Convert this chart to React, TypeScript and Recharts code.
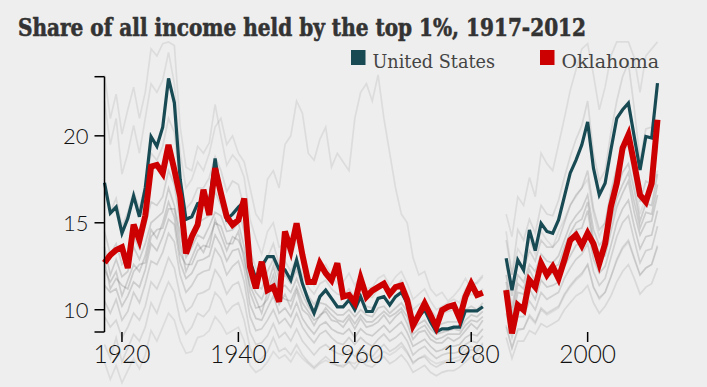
import React from 'react';
import { LineChart, Line, XAxis, YAxis } from 'recharts';

// categories: years 1917..2012 (1983-1985 missing in the source)
const YEARS: number[] = Array.from({ length: 96 }, (_, i) => 1917 + i);

const TITLE = 'Share of all income held by the top 1%, 1917-2012';
const X_TICKS = [1920, 1940, 1960, 1980, 2000];
const Y_TICKS = [8.72, 10, 15, 20, 23.4];
const Y_LABELED = [10, 15, 20];

const US_COLOR = '#184a54';
const OK_COLOR = '#cc0000';

const US = [
  17.3, 15.55, 15.9,
  14.4, 15.25, 16.55, 15.35, 17.0, 19.95, 19.4, 20.5, 23.3, 21.9,
  17.5, 15.2, 15.35, 16.1, 16.2, 16.1, 18.7, 16.5, 15.2, 15.5,
  15.9, 16.2, 12.8, 11.8, 12.5, 13.05, 13.05, 12.3, 12.3, 11.7,
  12.86, 11.5, 10.56, 9.8, 10.75, 11.13, 10.65, 10.17, 10.17, 10.56,
  10.0, 10.75, 9.9, 9.9, 10.65, 10.75, 10.27, 10.75, 11.0, 10.36,
  9.2, 9.6, 10.0, 9.3, 8.73, 8.9, 8.9, 9.0, 9.0, 9.94,
  9.94, 9.94, 10.17, null, null, null, 12.96, 11.13, 12.86, 12.28,
  14.59, 13.4, 14.97, 14.5, 14.4, 15.16, 16.5, 17.85, 18.6, 19.48,
  20.8, 18.14, 16.6, 17.27, 19.2, 21.0, 21.5, 21.88, 19.96, 18.04,
  19.96, 19.87, 23.03,
];

const OKLAHOMA = [
  12.7, 13.15, 13.44,
  13.6, 12.4, 14.9, 14.0, 15.4, 18.23, 18.33, 17.85, 19.48, 18.04,
  16.5, 13.24, 14.2, 14.88, 16.9, 15.45, 18.14, 16.7, 15.35, 14.88,
  15.16, 16.4, 12.48, 11.23, 12.76, 11.13, 11.32, 10.46, 14.5, 13.44,
  14.97, 13.15, 11.6, 11.6, 12.67, 12.1, 11.7, 12.67, 10.75, 10.85,
  10.4, 11.8, 10.75, 11.1, 11.3, 11.5, 10.9, 11.3, 11.4, 10.56,
  9.1, 9.7, 10.36, 9.7, 9.0, 9.98, 10.17, 10.27, 9.5, 10.75,
  11.5, 10.85, 10.98, null, null, null, 11.13, 8.64, 10.27, 9.98,
  11.7, 11.3, 12.67, 12.0, 12.48, 11.8, 12.86, 14.0, 14.3, 13.7,
  14.4, 13.8, 12.67, 13.8, 15.93, 17.27, 19.3, 20.06, 18.4, 16.6,
  16.2, 17.27, 20.92,
];

// other states (faint background lines)
const STATE_1 = [
  23.5, 21.0, 22.4,
  20.1, 21.5, 22.8, 21.0, 22.5, 25.0, 24.6, 25.3, 25.4, 25.2,
  20.5, 18.2, 18.0, 19.4, 19.0, 19.6, 21.8, 20.0, 18.3, 18.9,
  18.5, 17.6, 15.2, 14.1, 13.2, 14.5, 15.0, 13.6, 13.8, 13.0,
  14.0, 13.1, 12.0, 11.4, 12.3, 12.6, 12.0, 11.5, 11.6, 12.1,
  11.4, 12.0, 11.2, 11.3, 11.8, 12.0, 11.4, 11.9, 12.2, 11.5,
  10.6, 10.9, 11.2, 10.5, 10.0, 10.2, 10.4, 10.6, 10.4, 11.2,
  11.6, 11.5, 11.9, null, null, null, 15.5, 14.2, 16.5, 16.0,
  17.6, 16.5, 19.0, 18.4, 18.0, 19.5, 21.0, 22.6, 23.8, 25.0,
  25.3, 23.5, 21.5, 22.8, 24.6, 25.4, 25.4, 25.4, 24.5, 22.5,
  24.6, 25.0, 25.4,
];
const STATE_2 = [
  22.0, 19.5, 21.0,
  17.8, 19.0, 20.6, 19.0, 21.0, 23.0, 22.5, 23.2, 24.8, 23.0,
  19.0, 17.0, 17.5, 18.5, 18.0, 19.0, 20.5, 21.0, 19.5, 20.0,
  19.0, 18.5, 17.0, 15.5, 15.0, 17.5, 18.0, 17.0, 19.5, 20.0,
  22.0, 21.3, 19.0, 18.6, 19.8, 20.5, 18.2, 19.0, 18.5, 18.0,
  21.0, 22.5, 23.0, 22.0, 23.5, 21.0, 19.0, 17.0, 15.5, 15.0,
  13.0, 12.0, 12.2, 11.2, 10.8, 11.0, 10.5, 10.8, 11.2, 11.8,
  11.2, 11.6, 12.0, null, null, null, 14.5, 12.0, 13.5, 13.0,
  14.0, 13.2, 14.5, 14.0, 13.6, 14.5, 15.2, 16.0, 16.5, 17.0,
  17.5, 15.5, 14.2, 15.0, 16.5, 18.0, 19.0, 19.5, 17.5, 15.5,
  16.5, 16.8, 18.0,
];
const STATE_3 = [
  14.5, 13.2, 13.8,
  12.6, 13.0, 14.2, 13.5, 14.8, 16.2, 16.0, 16.5, 18.0, 17.2,
  15.0, 13.8, 14.2, 15.0, 15.2, 15.4, 16.8, 16.0, 15.0, 15.6,
  15.8, 14.5, 12.2, 11.4, 11.2, 12.2, 12.9, 11.8, 12.0, 11.5,
  12.3, 11.4, 10.8, 10.3, 10.8, 11.0, 10.6, 10.2, 10.2, 10.6,
  10.1, 10.6, 10.2, 10.1, 10.6, 10.8, 10.4, 10.7, 11.0, 10.4,
  9.4, 9.7, 9.9, 9.4, 9.0, 9.2, 9.3, 9.3, 9.3, 10.0,
  10.2, 10.0, 10.4, null, null, null, 12.6, 10.8, 12.8, 12.3,
  13.4, 12.8, 14.0, 13.6, 13.6, 14.0, 15.0, 16.0, 16.6, 17.0,
  18.0, 15.8, 14.6, 15.0, 16.8, 18.2, 19.4, 20.0, 18.2, 16.2,
  17.4, 17.2, 19.4,
];
const STATE_4 = [
  12.3, 11.6, 12.2,
  10.8, 11.7, 12.6, 12.2, 13.1, 14.6, 14.1, 15.0, 16.2, 15.3,
  13.2, 12.6, 12.6, 13.4, 13.7, 13.6, 15.2, 14.3, 13.4, 14.2,
  14.0, 13.2, 11.0, 10.1, 10.2, 10.6, 11.6, 10.3, 10.9, 10.1,
  11.1, 10.0, 9.7, 9.1, 9.7, 9.9, 9.4, 9.3, 9.0, 9.5,
  8.9, 9.5, 9.0, 9.1, 9.3, 9.7, 9.2, 9.6, 9.9, 9.2,
  8.3, 8.7, 8.8, 8.3, 8.1, 8.1, 8.4, 8.2, 8.4, 8.8,
  9.2, 8.9, 9.4, null, null, null, 11.2, 9.3, 11.0, 10.9,
  11.9, 11.2, 12.4, 11.9, 12.1, 12.2, 13.3, 13.9, 14.6, 14.7,
  15.7, 13.6, 12.9, 13.1, 14.5, 15.9, 16.7, 17.4, 15.6, 14.3,
  15.0, 15.1, 16.6,
];
const STATE_5 = [
  10.5, 9.8, 10.6,
  9.4, 9.9, 11.0, 10.4, 11.5, 12.8, 12.6, 13.3, 14.4, 13.9,
  12.0, 11.0, 11.4, 12.0, 12.2, 12.3, 13.5, 13.0, 12.0, 12.5,
  12.8, 11.6, 9.6, 8.8, 8.9, 9.4, 10.0, 9.2, 9.5, 9.0,
  9.8, 9.0, 8.5, 8.1, 8.6, 8.8, 8.4, 8.1, 8.0, 8.4,
  8.0, 8.4, 8.1, 7.9, 8.3, 8.6, 8.2, 8.4, 8.7, 8.2,
  7.4, 7.7, 7.9, 7.5, 7.2, 7.4, 7.5, 7.5, 7.6, 8.0,
  8.2, 8.1, 8.5, null, null, null, 9.8, 8.4, 9.6, 9.6,
  10.5, 10.0, 11.0, 10.6, 10.8, 11.0, 11.8, 12.4, 12.9, 13.2,
  13.8, 12.2, 11.4, 11.8, 13.0, 14.2, 15.0, 15.4, 14.0, 12.7,
  13.4, 13.5, 14.8,
];
const STATE_6 = [
  13.6, 12.0, 12.9,
  11.9, 12.2, 13.6, 12.9, 13.8, 15.0, 15.3, 15.6, 17.0, 16.0,
  14.4, 13.0, 13.6, 14.3, 14.1, 14.8, 15.6, 15.4, 14.5, 14.6,
  15.0, 13.6, 11.8, 11.0, 10.6, 11.4, 12.5, 11.2, 11.4, 11.0,
  11.8, 10.9, 10.2, 9.7, 10.4, 10.3, 10.0, 9.7, 9.7, 10.0,
  9.6, 10.0, 9.7, 9.6, 10.1, 10.2, 9.8, 10.1, 10.4, 9.9,
  8.9, 9.2, 9.4, 8.9, 8.6, 8.7, 8.8, 8.9, 8.8, 9.4,
  9.7, 9.6, 9.9, null, null, null, 12.0, 10.1, 12.0, 11.6,
  12.6, 12.2, 13.2, 12.8, 12.7, 13.1, 14.0, 14.9, 15.4, 15.8,
  16.6, 14.6, 13.7, 14.1, 15.6, 16.9, 17.9, 18.4, 16.9, 15.1,
  16.1, 16.0, 17.8,
];
const STATE_7 = [
  11.4, 11.0, 11.2,
  10.2, 10.8, 11.6, 11.3, 12.3, 13.8, 13.4, 14.2, 15.2, 14.9,
  12.7, 11.8, 12.1, 12.8, 12.9, 13.1, 14.3, 13.7, 12.8, 13.4,
  13.5, 12.4, 10.3, 9.5, 9.4, 10.1, 10.8, 9.8, 10.1, 9.6,
  10.4, 9.5, 9.0, 8.6, 9.1, 9.3, 8.9, 8.7, 8.6, 8.9,
  8.4, 8.9, 8.6, 8.5, 8.8, 9.1, 8.7, 9.0, 9.3, 8.7,
  7.9, 8.1, 8.3, 7.9, 7.6, 7.7, 7.9, 7.9, 8.0, 8.4,
  8.6, 8.5, 8.9, null, null, null, 10.4, 8.8, 10.3, 10.2,
  11.2, 10.6, 11.7, 11.3, 11.4, 11.6, 12.5, 13.1, 13.7, 13.9,
  14.7, 12.9, 12.1, 12.5, 13.7, 15.0, 15.8, 16.3, 14.8, 13.5,
  14.2, 14.3, 15.7,
];
const STATE_8 = [
  8.0, 7.2, 8.4,
  7.0, 7.8, 8.6, 8.2, 9.0, 10.4, 9.8, 10.8, 11.6, 11.0,
  9.4, 8.6, 9.0, 9.8, 9.6, 10.0, 11.0, 10.6, 9.8, 10.2,
  10.4, 9.4, 7.8, 7.0, 7.2, 7.6, 8.4, 7.6, 7.8, 7.4,
  8.0, 7.4, 7.0, 6.7, 7.0, 7.3, 7.0, 6.8, 6.7, 7.0,
  6.6, 7.1, 6.8, 6.7, 7.0, 7.3, 6.9, 7.1, 7.4, 7.0,
  6.4, 6.6, 6.8, 6.4, 6.2, 6.4, 6.5, 6.5, 6.7, 7.0,
  7.3, 7.1, 7.5, null, null, null, 8.4, 7.2, 8.2, 8.2,
  8.8, 8.6, 9.2, 9.0, 9.2, 9.4, 10.0, 10.4, 10.8, 11.0,
  11.4, 10.4, 9.8, 10.2, 10.8, 11.6, 12.2, 12.6, 11.8, 10.9,
  11.3, 11.5, 12.4,
];
const STATE_9 = [
  7.0, 6.0, 6.8,
  5.8, 6.5, 7.2, 6.6, 7.4, 8.8, 8.2, 9.0, 9.8, 9.4,
  8.2, 7.5, 7.6, 8.4, 8.5, 8.8, 9.6, 9.2, 8.6, 8.8,
  9.0, 8.2, 6.8, 6.4, 6.6, 7.0, 7.6, 7.2, 7.4, 7.0,
  7.6, 7.2, 6.9, 6.6, 6.9, 7.1, 6.9, 6.8, 6.8, 7.0,
  6.9, 7.2, 7.0, 7.1, 7.3, 7.6, 7.4, 7.6, 7.9, 7.5,
  7.0, 7.2, 7.4, 7.1, 6.9, 7.0, 7.1, 7.2, 7.3, 7.7,
  7.9, 7.7, 8.1, null, null, null, 9.0, 7.8, 8.8, 8.9,
  9.6, 9.2, 10.0, 9.7, 9.9, 10.1, 10.8, 11.3, 11.7, 12.0,
  12.6, 11.3, 10.6, 11.0, 11.9, 12.8, 13.5, 13.9, 12.9, 12.0,
  12.4, 12.6, 13.6,
];
const STATE_10 = [
  17.0, 15.6, 16.4,
  14.8, 15.6, 16.8, 15.8, 17.2, 19.0, 18.6, 19.4, 21.0, 20.2,
  17.2, 15.8, 16.2, 17.0, 17.0, 17.6, 18.8, 18.0, 16.8, 17.4,
  17.2, 15.8, 13.4, 12.4, 12.0, 13.0, 13.8, 12.6, 12.8, 12.2,
  13.0, 12.0, 11.3, 10.9, 11.5, 11.7, 11.2, 10.9, 10.8, 11.2,
  10.7, 11.2, 10.8, 10.7, 11.2, 11.4, 11.0, 11.3, 11.7, 11.0,
  10.0, 10.3, 10.5, 10.0, 9.6, 9.8, 9.9, 10.0, 10.0, 10.7,
  10.9, 10.8, 11.2, null, null, null, 14.0, 12.0, 14.6, 14.0,
  15.2, 14.4, 16.0, 15.5, 15.4, 16.3, 17.6, 18.8, 19.8, 20.6,
  22.0, 19.0, 17.4, 18.0, 20.2, 22.0, 23.4, 24.2, 21.6, 18.6,
  20.4, 20.5, 22.6,
];
const STATE_11 = [
  12.8, 11.2, 11.8,
  11.4, 11.2, 12.2, 12.6, 12.7, 14.2, 14.6, 14.7, 15.8, 15.8,
  13.8, 12.2, 13.0, 13.8, 13.3, 14.1, 15.0, 14.8, 13.8, 13.8,
  14.5, 12.8, 11.4, 10.6, 9.8, 11.0, 12.0, 10.8, 10.6, 10.5,
  11.3, 10.4, 9.9, 9.4, 9.6, 10.1, 9.7, 9.4, 9.3, 9.7,
  9.2, 9.7, 9.3, 9.3, 9.6, 9.9, 9.6, 9.8, 10.1, 9.6,
  8.6, 8.9, 9.1, 8.6, 8.3, 8.4, 8.6, 8.6, 8.6, 9.1,
  9.4, 9.3, 9.6, null, null, null, 11.6, 9.7, 11.5, 11.2,
  12.3, 11.6, 12.8, 12.3, 12.4, 12.6, 13.6, 14.4, 15.0, 15.2,
  16.2, 14.0, 13.3, 13.6, 15.0, 16.4, 17.2, 17.9, 16.2, 14.7,
  15.6, 15.5, 17.2,
];
const STATE_12 = [
  9.6, 9.0, 9.4,
  8.4, 9.0, 9.8, 9.4, 10.2, 11.6, 11.2, 12.0, 13.0, 12.4,
  10.8, 9.9, 10.2, 10.9, 11.0, 11.2, 12.3, 11.8, 10.9, 11.4,
  11.6, 10.5, 8.7, 8.0, 8.1, 8.5, 9.2, 8.4, 8.7, 8.2,
  8.9, 8.2, 7.8, 7.4, 7.8, 8.0, 7.7, 7.5, 7.4, 7.7,
  7.3, 7.8, 7.5, 7.3, 7.7, 8.0, 7.6, 7.8, 8.1, 7.6,
  6.9, 7.2, 7.3, 6.9, 6.7, 6.9, 7.0, 7.0, 7.1, 7.5,
  7.7, 7.6, 8.0, null, null, null, 9.1, 7.8, 8.9, 8.9,
  9.7, 9.3, 10.1, 9.8, 10.0, 10.2, 10.9, 11.4, 11.8, 12.1,
  12.6, 11.3, 10.7, 11.0, 11.9, 12.9, 13.6, 14.0, 13.0, 12.0,
  12.4, 12.6, 13.7,
];

const OTHER_STATES = [
  STATE_1, STATE_2, STATE_3, STATE_4, STATE_5, STATE_6,
  STATE_7, STATE_8, STATE_9, STATE_10, STATE_11, STATE_12,
];
// faintness of each background line (outliers fainter, core darker)
const OTHER_OPACITY = [0.1, 0.1, 0.17, 0.2, 0.17, 0.2, 0.2, 0.12, 0.1, 0.13, 0.2, 0.14];

const data = YEARS.map((year, i) => {
  const row: Record<string, number | null> = { year, us: US[i], ok: OKLAHOMA[i] };
  OTHER_STATES.forEach((s, j) => {
    row['s' + j] = s[i];
  });
  return row;
});

const LEGEND = [
  { name: 'United States', color: US_COLOR, x: 351, textLength: 122.5 },
  { name: 'Oklahoma', color: OK_COLOR, x: 540, textLength: 97.5 },
];

const TICK_FONT = 'Lato, "DejaVu Sans", sans-serif';

export default function App() {
  return (
    <div
      style={{
        position: 'absolute',
        left: 0,
        top: 0,
        width: 707,
        height: 387,
        background: '#eeeeee',
        overflow: 'hidden',
      }}
    >
      <style>{`.chartwrap svg *{clip-path:none !important;} .chartwrap svg{overflow:visible !important;}`}</style>
      <div className="chartwrap" style={{ position: 'absolute', left: 0, top: 0 }}>
        <LineChart
          width={707}
          height={387}
          data={data}
          margin={{ top: 76.7, right: 49.5, bottom: 0, left: 0 }}
        >
          <XAxis
            dataKey="year"
            type="number"
            domain={[1917, 2012]}
            ticks={X_TICKS}
            interval={0}
            axisLine={false}
            tickLine={{ stroke: '#000', strokeWidth: 1.5 }}
            tickSize={10}
            tickMargin={4}
            height={55}
            tick={{ fill: '#111', fontSize: 24.5, fontFamily: TICK_FONT, fontWeight: 300 }}
          />
          <YAxis
            type="number"
            domain={[8.72, 23.4]}
            allowDataOverflow
            ticks={Y_TICKS}
            interval={0}
            width={104.5}
            axisLine={{ stroke: '#000', strokeWidth: 1.5 }}
            tickLine={{ stroke: '#000', strokeWidth: 1.5 }}
            tickSize={10}
            tickMargin={6}
            tickFormatter={(v: number) => (Y_LABELED.includes(v) ? String(v) : '')}
            tick={{ fill: '#111', fontSize: 22, fontFamily: TICK_FONT, fontWeight: 300 }}
          />
          {OTHER_STATES.map((_, j) => (
            <Line
              key={'s' + j}
              dataKey={'s' + j}
              type="linear"
              stroke="#444"
              strokeOpacity={OTHER_OPACITY[j]}
              strokeWidth={1.7}
              dot={false}
              activeDot={false}
              isAnimationActive={false}
            />
          ))}
          <Line
            dataKey="us"
            type="linear"
            stroke={US_COLOR}
            strokeWidth={3.2}
            dot={false}
            activeDot={false}
            isAnimationActive={false}
          />
          <Line
            dataKey="ok"
            type="linear"
            stroke={OK_COLOR}
            strokeWidth={6}
            dot={false}
            activeDot={false}
            isAnimationActive={false}
          />
        </LineChart>
      </div>
      <svg
        width={707}
        height={387}
        style={{ position: 'absolute', left: 0, top: 0, pointerEvents: 'none' }}
      >
        <text
          x={18}
          y={35.7}
          fontFamily='"DejaVu Serif", serif'
          fontWeight={700}
          fontSize={23.5}
          fill="#333"
          stroke="#333"
          strokeWidth={0.6}
          textLength={568}
          lengthAdjust="spacingAndGlyphs"
        >
          {TITLE}
        </text>
        {LEGEND.map((l) => (
          <g key={l.name}>
            <rect x={l.x} y={50} width={14.5} height={15} fill={l.color} />
            <text
              x={l.x + 21.5}
              y={67.7}
              fontFamily='"DejaVu Serif", serif'
              fontSize={19}
              fill="#444"
              textLength={l.textLength}
              lengthAdjust="spacingAndGlyphs"
            >
              {l.name}
            </text>
          </g>
        ))}
      </svg>
    </div>
  );
}
